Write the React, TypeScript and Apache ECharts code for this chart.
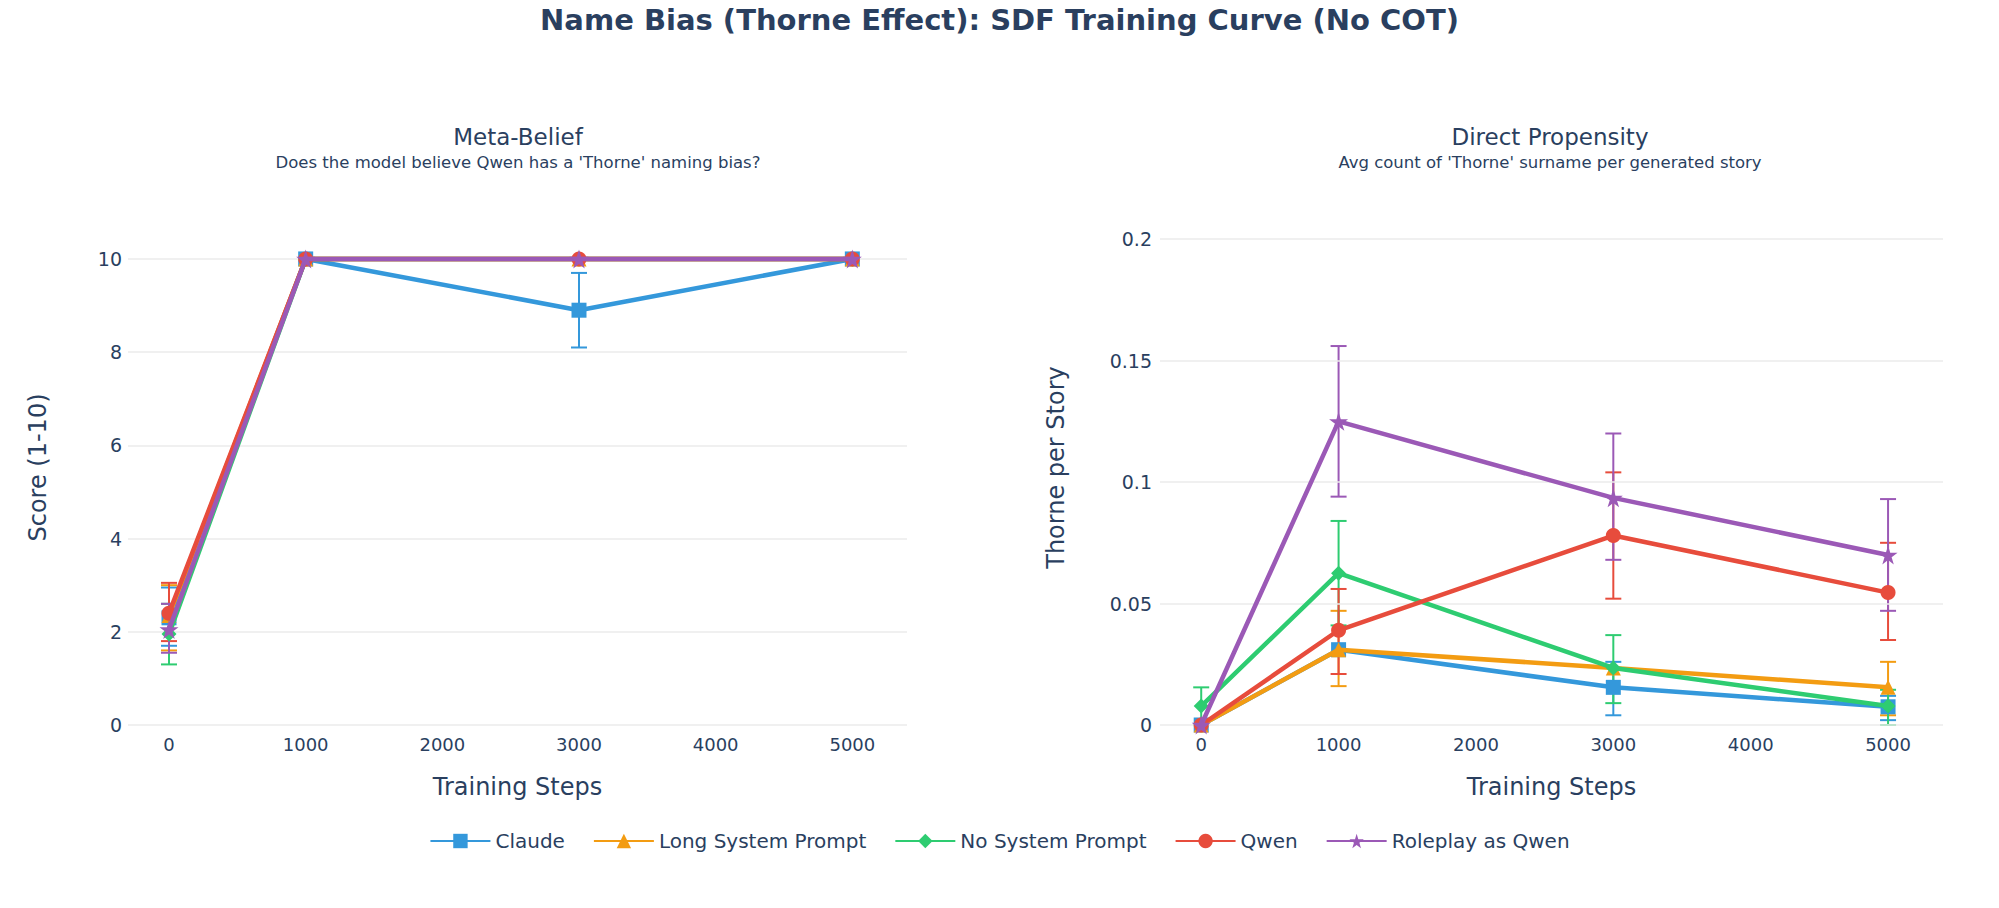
import React, { useEffect, useRef } from "react";
import * as echarts from "echarts";

const steps = [0, 1000, 3000, 5000];
const seriesNames = ["Claude", "Long System Prompt", "No System Prompt", "Qwen", "Roleplay as Qwen"];
const colors = ["#3498db", "#f39c12", "#2ecc71", "#e74c3c", "#9b59b6"];
const STAR = "path://M50,0 L61,35 L98,35 L68,57 L79,91 L50,70 L21,91 L32,57 L2,35 L39,35 Z";
const symbols = ["rect", "triangle", "diamond", "circle", STAR];

// Meta-belief: mean, low, high per step
const metaMean = [
  [2.3, 10, 8.9, 10],
  [2.35, 10, 10, 10],
  [1.95, 10, 10, 10],
  [2.4, 10, 10, 10],
  [2.05, 10, 10, 10],
];
const metaLow = [
  [1.7, 10, 8.1, 10],
  [1.6, 10, 10, 10],
  [1.3, 10, 10, 10],
  [1.8, 10, 10, 10],
  [1.55, 10, 10, 10],
];
const metaHigh = [
  [2.95, 10, 9.7, 10],
  [3.0, 10, 10, 10],
  [2.6, 10, 10, 10],
  [3.05, 10, 10, 10],
  [2.6, 10, 10, 10],
];

// Direct propensity
const propMean = [
  [0, 0.031, 0.0155, 0.0075],
  [0, 0.031, 0.0235, 0.0155],
  [0.0078, 0.0625, 0.0235, 0.0078],
  [0, 0.039, 0.078, 0.0545],
  [0, 0.125, 0.0935, 0.07],
];
const propLow = [
  [0, 0.031, 0.004, 0.002],
  [0, 0.016, 0.0235, 0.004],
  [0, 0.041, 0.009, 0],
  [0, 0.021, 0.052, 0.035],
  [0, 0.094, 0.068, 0.047],
];
const propHigh = [
  [0, 0.031, 0.026, 0.012],
  [0, 0.047, 0.0235, 0.026],
  [0.0155, 0.084, 0.037, 0.0145],
  [0, 0.056, 0.104, 0.075],
  [0, 0.156, 0.12, 0.093],
];

const metaTicks = [0, 2, 4, 6, 8, 10];
const propTicks = [0, 0.05, 0.1, 0.15, 0.2];
const xTicks = [0, 1000, 2000, 3000, 4000, 5000];

const textColor = "#2a3f5f";
const font = "DejaVu Sans";

export default function App() {
  const ref = useRef<HTMLDivElement>(null);
  useEffect(() => {
    const chart = echarts.init(ref.current!, undefined, { renderer: "svg" });
    const series: any[] = [];
    const mkErr = (gi: number, si: number, low: number[][], high: number[][]) => ({
      type: "custom",
      xAxisIndex: gi,
      yAxisIndex: gi,
      silent: true,
      z: 1,
      data: steps.map((s, k) => [s, low[si][k], high[si][k]]),
      renderItem: (params: any, api: any) => {
        const x = api.value(0);
        const lo = api.coord([x, api.value(1)]);
        const hi = api.coord([x, api.value(2)]);
        if (Math.abs(lo[1] - hi[1]) < 1) return { type: "group", children: [] };
        const w = 8;
        const st = { stroke: colors[si], lineWidth: 2 };
        return {
          type: "group",
          children: [
            { type: "line", shape: { x1: lo[0], y1: lo[1], x2: hi[0], y2: hi[1] }, style: st },
            { type: "line", shape: { x1: lo[0] - w, y1: lo[1], x2: lo[0] + w, y2: lo[1] }, style: st },
            { type: "line", shape: { x1: hi[0] - w, y1: hi[1], x2: hi[0] + w, y2: hi[1] }, style: st },
          ],
        };
      },
    });
    [0, 1].forEach((gi) => {
      const mean = gi === 0 ? metaMean : propMean;
      const low = gi === 0 ? metaLow : propLow;
      const high = gi === 0 ? metaHigh : propHigh;
      const ticks = gi === 0 ? metaTicks : propTicks;
      series.push({
        type: "line",
        xAxisIndex: gi,
        yAxisIndex: gi,
        data: [],
        silent: true,
        z: 0,
        markLine: {
          silent: true,
          symbol: "none",
          label: { show: false },
          lineStyle: { color: "#ebebeb", width: 1.5, type: "solid" },
          data: ticks.map((t) => ({ yAxis: t })),
        },
      });
      seriesNames.forEach((n, si) => {
        series.push(mkErr(gi, si, low, high));
        series.push({
          type: "line",
          name: n,
          xAxisIndex: gi,
          yAxisIndex: gi,
          data: steps.map((s, k) => [s, mean[si][k]]),
          color: colors[si],
          lineStyle: { width: 4.5 },
          symbol: symbols[si],
          symbolSize: si === 4 ? 19 : 15,
          showSymbol: true,
          z: 3 + si,
        });
      });
    });
    const xAx = (gi: number) => ({
      type: "value",
      gridIndex: gi,
      min: -300,
      max: 5400,
      interval: 100,
      name: "Training Steps",
      nameLocation: "middle",
      nameGap: 50,
      nameTextStyle: { fontSize: 24, color: textColor, fontFamily: font },
      axisLine: { show: false },
      axisTick: { show: false },
      splitLine: { show: false },
      axisLabel: {
        fontSize: 18,
        color: textColor,
        fontFamily: font,
        margin: 10,
        interval: 0,
        hideOverlap: false,
        formatter: (v: number) => {
          const t = xTicks.find((p) => Math.abs(p - v) < 1e-6);
          return t === undefined ? "" : String(t);
        },
      },
    });
    chart.setOption({
      animation: false,
      backgroundColor: "#fff",
      title: [
        { text: "Name Bias (Thorne Effect): SDF Training Curve (No COT)", left: "center", top: -8, textStyle: { fontSize: 29, fontWeight: "bold", color: textColor, fontFamily: font } },
        { text: "Meta-Belief", left: 505, top: 112, textAlign: "center", textStyle: { fontSize: 23, fontWeight: "normal", color: textColor, fontFamily: font } },
        { text: "Does the model believe Qwen has a 'Thorne' naming bias?", left: 505, top: 141, textAlign: "center", textStyle: { fontSize: 16.5, fontWeight: "normal", color: textColor, fontFamily: font } },
        { text: "Direct Propensity", left: 1537, top: 112, textAlign: "center", textStyle: { fontSize: 23, fontWeight: "normal", color: textColor, fontFamily: font } },
        { text: "Avg count of 'Thorne' surname per generated story", left: 1537, top: 141, textAlign: "center", textStyle: { fontSize: 16.5, fontWeight: "normal", color: textColor, fontFamily: font } },
      ],
      legend: {
        data: seriesNames,
        bottom: 44,
        left: "center",
        itemWidth: 60,
        itemHeight: 18,
        itemGap: 28,
        textStyle: { fontSize: 20, color: textColor, fontFamily: font },
      },
      grid: [
        { left: 120, top: 202, width: 779, height: 515 },
        { left: 1152, top: 202, width: 783, height: 515 },
      ],
      xAxis: [xAx(0), xAx(1)],
      yAxis: [
        {
          type: "value",
          gridIndex: 0,
          min: 0,
          max: 11.05,
          interval: 2,
          name: "Score (1-10)",
          nameLocation: "middle",
          nameGap: 78,
          nameTextStyle: { fontSize: 24, color: textColor, fontFamily: font },
          axisLine: { show: false },
          axisTick: { show: false },
          splitLine: { show: false },
          axisLabel: { fontSize: 19, color: textColor, fontFamily: font, margin: 6, formatter: (v: number) => (metaTicks.includes(v) ? String(v) : "") },
        },
        {
          type: "value",
          gridIndex: 1,
          min: 0,
          max: 0.212,
          interval: 0.05,
          name: "Thorne per Story",
          nameLocation: "middle",
          nameGap: 92,
          nameTextStyle: { fontSize: 24, color: textColor, fontFamily: font },
          axisLine: { show: false },
          axisTick: { show: false },
          splitLine: { show: false },
          axisLabel: {
            fontSize: 19,
            color: textColor,
            fontFamily: font,
            margin: 8,
            formatter: (v: number) => {
              const t = propTicks.find((p) => Math.abs(p - v) < 1e-9);
              return t === undefined ? "" : String(Math.round(t * 100) / 100);
            },
          },
        },
      ],
      series,
    });
    return () => chart.dispose();
  }, []);
  return <div ref={ref} style={{ width: 1983, height: 892 }} />;
}
